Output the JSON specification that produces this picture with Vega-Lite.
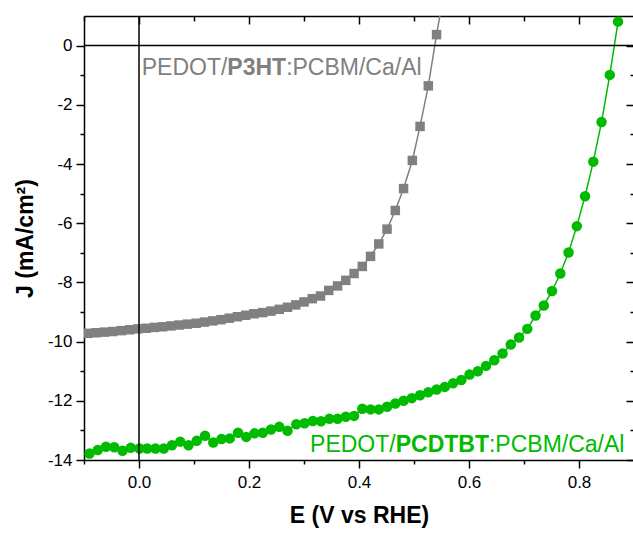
{
  "$schema": "https://vega.github.io/schema/vega-lite/v6.json",
  "width": 550,
  "height": 444,
  "autosize": {"type": "none"},
  "padding": {"left": 84, "top": 16, "right": 0, "bottom": 73},
  "background": "white",
  "config": {
    "view": {"stroke": null},
    "font": "Liberation Sans",
    "axis": {
      "grid": false,
      "domainColor": "black",
      "domainWidth": 1.5,
      "tickColor": "black",
      "tickWidth": 1.5,
      "labelColor": "black",
      "titleColor": "black",
      "labelFont": "Liberation Sans",
      "titleFont": "Liberation Sans",
      "labelFontSize": 17,
      "titleFontSize": 23,
      "titleFontWeight": "bold",
      "labelOverlap": false,
      "labelFlush": false
    }
  },
  "datasets": {
    "curves": [
      {"device": "P3HT", "E": -0.093, "J": -9.72},
      {"device": "P3HT", "E": -0.078, "J": -9.70},
      {"device": "P3HT", "E": -0.063, "J": -9.68},
      {"device": "P3HT", "E": -0.048, "J": -9.66},
      {"device": "P3HT", "E": -0.032, "J": -9.63},
      {"device": "P3HT", "E": -0.017, "J": -9.60},
      {"device": "P3HT", "E": -0.002, "J": -9.57},
      {"device": "P3HT", "E": 0.013, "J": -9.55},
      {"device": "P3HT", "E": 0.028, "J": -9.52},
      {"device": "P3HT", "E": 0.043, "J": -9.50},
      {"device": "P3HT", "E": 0.058, "J": -9.47},
      {"device": "P3HT", "E": 0.073, "J": -9.44},
      {"device": "P3HT", "E": 0.088, "J": -9.41},
      {"device": "P3HT", "E": 0.104, "J": -9.38},
      {"device": "P3HT", "E": 0.119, "J": -9.34},
      {"device": "P3HT", "E": 0.134, "J": -9.30},
      {"device": "P3HT", "E": 0.149, "J": -9.26},
      {"device": "P3HT", "E": 0.164, "J": -9.21},
      {"device": "P3HT", "E": 0.179, "J": -9.16},
      {"device": "P3HT", "E": 0.194, "J": -9.11},
      {"device": "P3HT", "E": 0.209, "J": -9.06},
      {"device": "P3HT", "E": 0.225, "J": -9.02},
      {"device": "P3HT", "E": 0.240, "J": -8.97},
      {"device": "P3HT", "E": 0.255, "J": -8.91},
      {"device": "P3HT", "E": 0.270, "J": -8.84},
      {"device": "P3HT", "E": 0.285, "J": -8.76},
      {"device": "P3HT", "E": 0.300, "J": -8.66},
      {"device": "P3HT", "E": 0.315, "J": -8.55},
      {"device": "P3HT", "E": 0.330, "J": -8.46},
      {"device": "P3HT", "E": 0.345, "J": -8.27},
      {"device": "P3HT", "E": 0.361, "J": -8.12},
      {"device": "P3HT", "E": 0.376, "J": -7.93},
      {"device": "P3HT", "E": 0.391, "J": -7.70},
      {"device": "P3HT", "E": 0.406, "J": -7.46},
      {"device": "P3HT", "E": 0.421, "J": -7.12},
      {"device": "P3HT", "E": 0.436, "J": -6.70},
      {"device": "P3HT", "E": 0.451, "J": -6.20},
      {"device": "P3HT", "E": 0.466, "J": -5.57},
      {"device": "P3HT", "E": 0.481, "J": -4.83},
      {"device": "P3HT", "E": 0.497, "J": -3.88},
      {"device": "P3HT", "E": 0.511, "J": -2.73},
      {"device": "P3HT", "E": 0.526, "J": -1.36},
      {"device": "P3HT", "E": 0.541, "J": 0.37},
      {"device": "P3HT", "E": 0.556, "J": 1.95},
      {"device": "PCDTBT", "E": -0.090, "J": -13.78},
      {"device": "PCDTBT", "E": -0.075, "J": -13.66},
      {"device": "PCDTBT", "E": -0.060, "J": -13.55},
      {"device": "PCDTBT", "E": -0.045, "J": -13.57},
      {"device": "PCDTBT", "E": -0.030, "J": -13.69},
      {"device": "PCDTBT", "E": -0.015, "J": -13.59},
      {"device": "PCDTBT", "E": 0.001, "J": -13.61},
      {"device": "PCDTBT", "E": 0.015, "J": -13.61},
      {"device": "PCDTBT", "E": 0.030, "J": -13.61},
      {"device": "PCDTBT", "E": 0.045, "J": -13.61},
      {"device": "PCDTBT", "E": 0.060, "J": -13.50},
      {"device": "PCDTBT", "E": 0.075, "J": -13.38},
      {"device": "PCDTBT", "E": 0.090, "J": -13.50},
      {"device": "PCDTBT", "E": 0.105, "J": -13.35},
      {"device": "PCDTBT", "E": 0.120, "J": -13.18},
      {"device": "PCDTBT", "E": 0.135, "J": -13.41},
      {"device": "PCDTBT", "E": 0.150, "J": -13.29},
      {"device": "PCDTBT", "E": 0.165, "J": -13.27},
      {"device": "PCDTBT", "E": 0.180, "J": -13.08},
      {"device": "PCDTBT", "E": 0.195, "J": -13.22},
      {"device": "PCDTBT", "E": 0.210, "J": -13.10},
      {"device": "PCDTBT", "E": 0.225, "J": -13.08},
      {"device": "PCDTBT", "E": 0.240, "J": -12.97},
      {"device": "PCDTBT", "E": 0.255, "J": -12.88},
      {"device": "PCDTBT", "E": 0.270, "J": -13.01},
      {"device": "PCDTBT", "E": 0.286, "J": -12.79},
      {"device": "PCDTBT", "E": 0.301, "J": -12.76},
      {"device": "PCDTBT", "E": 0.316, "J": -12.68},
      {"device": "PCDTBT", "E": 0.331, "J": -12.69},
      {"device": "PCDTBT", "E": 0.346, "J": -12.61},
      {"device": "PCDTBT", "E": 0.361, "J": -12.61},
      {"device": "PCDTBT", "E": 0.376, "J": -12.54},
      {"device": "PCDTBT", "E": 0.391, "J": -12.51},
      {"device": "PCDTBT", "E": 0.406, "J": -12.27},
      {"device": "PCDTBT", "E": 0.421, "J": -12.29},
      {"device": "PCDTBT", "E": 0.436, "J": -12.29},
      {"device": "PCDTBT", "E": 0.451, "J": -12.20},
      {"device": "PCDTBT", "E": 0.466, "J": -12.09},
      {"device": "PCDTBT", "E": 0.481, "J": -12.00},
      {"device": "PCDTBT", "E": 0.496, "J": -11.91},
      {"device": "PCDTBT", "E": 0.511, "J": -11.81},
      {"device": "PCDTBT", "E": 0.526, "J": -11.71},
      {"device": "PCDTBT", "E": 0.541, "J": -11.62},
      {"device": "PCDTBT", "E": 0.556, "J": -11.53},
      {"device": "PCDTBT", "E": 0.571, "J": -11.41},
      {"device": "PCDTBT", "E": 0.586, "J": -11.30},
      {"device": "PCDTBT", "E": 0.601, "J": -11.11},
      {"device": "PCDTBT", "E": 0.616, "J": -11.00},
      {"device": "PCDTBT", "E": 0.631, "J": -10.82},
      {"device": "PCDTBT", "E": 0.646, "J": -10.63},
      {"device": "PCDTBT", "E": 0.661, "J": -10.40},
      {"device": "PCDTBT", "E": 0.676, "J": -10.10},
      {"device": "PCDTBT", "E": 0.691, "J": -9.86},
      {"device": "PCDTBT", "E": 0.706, "J": -9.57},
      {"device": "PCDTBT", "E": 0.721, "J": -9.12},
      {"device": "PCDTBT", "E": 0.736, "J": -8.78},
      {"device": "PCDTBT", "E": 0.751, "J": -8.29},
      {"device": "PCDTBT", "E": 0.766, "J": -7.70},
      {"device": "PCDTBT", "E": 0.781, "J": -6.99},
      {"device": "PCDTBT", "E": 0.796, "J": -6.10},
      {"device": "PCDTBT", "E": 0.811, "J": -5.09},
      {"device": "PCDTBT", "E": 0.826, "J": -3.92},
      {"device": "PCDTBT", "E": 0.841, "J": -2.58},
      {"device": "PCDTBT", "E": 0.856, "J": -0.99},
      {"device": "PCDTBT", "E": 0.871, "J": 0.81}
    ],
    "zero": [{"v": 0}],
    "labels": [
      {"device": "P3HT", "part": "stack", "E": 0.005, "J": -1.01, "text": "PEDOT/"},
      {"device": "P3HT", "part": "material", "E": 0.1606, "J": -1.01, "text": "P3HT"},
      {"device": "P3HT", "part": "stack", "E": 0.2675, "J": -1.01, "text": ":PCBM/Ca/Al"},
      {"device": "PCDTBT", "part": "stack", "E": 0.311, "J": -13.73, "text": "PEDOT/"},
      {"device": "PCDTBT", "part": "material", "E": 0.4667, "J": -13.73, "text": "PCDTBT"},
      {"device": "PCDTBT", "part": "stack", "E": 0.6363, "J": -13.73, "text": ":PCBM/Ca/Al"}
    ]
  },
  "resolve": {"axis": {"x": "independent", "y": "independent"}},
  "layer": [
    {
      "data": {"name": "curves"},
      "mark": {"type": "line", "strokeWidth": 1.5, "clip": true},
      "encoding": {
        "x": {
          "field": "E", "type": "quantitative",
          "scale": {"domain": [-0.1, 0.9], "nice": false, "zero": false},
          "axis": {
            "orient": "bottom",
            "values": [-0.1, 0, 0.1, 0.2, 0.3, 0.4, 0.5, 0.6, 0.7, 0.8, 0.9],
            "labelExpr": "round(datum.value*10) % 2 === 0 ? format(datum.value, '.1f') : ''",
            "tickSize": {"condition": {"test": "round(datum.value*10) % 2 !== 0", "value": 4}, "value": 8},
            "labelPadding": 6,
            "title": "E (V vs RHE)",
            "titlePadding": 14
          }
        },
        "y": {
          "field": "J", "type": "quantitative",
          "scale": {"domain": [-14, 1], "nice": false, "zero": false},
          "axis": {
            "orient": "left",
            "values": [-14, -13, -12, -11, -10, -9, -8, -7, -6, -5, -4, -3, -2, -1, 0],
            "labelExpr": "datum.value % 2 === 0 ? '' + datum.value : ''",
            "tickSize": {"condition": {"test": "datum.value % 2 !== 0", "value": 4}, "value": 8},
            "labelPadding": 4,
            "title": "J (mA/cm²)",
            "titlePadding": 10
          }
        },
        "detail": {"field": "device"},
        "color": {"field": "device", "type": "nominal", "scale": {"domain": ["P3HT", "PCDTBT"], "range": ["#808080", "#00BB00"]}, "legend": null}
      }
    },
    {
      "data": {"name": "curves"},
      "transform": [{"filter": "datum.device === 'P3HT'"}],
      "mark": {"type": "point", "shape": "square", "filled": true, "size": 90, "opacity": 1, "clip": true},
      "encoding": {
        "x": {"field": "E", "type": "quantitative", "axis": null},
        "y": {"field": "J", "type": "quantitative", "axis": null},
        "color": {"field": "device", "type": "nominal", "legend": null}
      }
    },
    {
      "data": {"name": "curves"},
      "transform": [{"filter": "datum.device === 'PCDTBT'"}],
      "mark": {"type": "point", "shape": "circle", "filled": true, "size": 110, "opacity": 1, "clip": true},
      "encoding": {
        "x": {"field": "E", "type": "quantitative", "axis": null},
        "y": {"field": "J", "type": "quantitative", "axis": null},
        "color": {"field": "device", "type": "nominal", "legend": null}
      }
    },
    {
      "data": {"name": "zero"},
      "mark": {"type": "rule", "color": "black", "strokeWidth": 1.5},
      "encoding": {
        "y": {
          "field": "v", "type": "quantitative",
          "axis": {
            "orient": "right",
            "values": [-14, -13, -12, -11, -10, -9, -8, -7, -6, -5, -4, -3, -2, -1, 0],
            "labels": false,
            "tickSize": {"condition": {"test": "datum.value % 2 !== 0", "value": -4}, "value": -8},
            "title": null
          }
        }
      }
    },
    {
      "data": {"name": "zero"},
      "mark": {"type": "rule", "color": "black", "strokeWidth": 1.5},
      "encoding": {
        "x": {
          "field": "v", "type": "quantitative",
          "axis": {
            "orient": "top",
            "values": [-0.1, 0, 0.1, 0.2, 0.3, 0.4, 0.5, 0.6, 0.7, 0.8, 0.9],
            "labels": false,
            "tickSize": {"condition": {"test": "round(datum.value*10) % 2 !== 0", "value": -5}, "value": -8},
            "title": null
          }
        }
      }
    },
    {
      "data": {"name": "labels"},
      "transform": [{"filter": "datum.part === 'stack'"}],
      "mark": {"type": "text", "align": "left", "baseline": "alphabetic", "fontSize": 23, "font": "Liberation Sans"},
      "encoding": {
        "x": {"field": "E", "type": "quantitative", "axis": null},
        "y": {"field": "J", "type": "quantitative", "axis": null},
        "text": {"field": "text"},
        "color": {"field": "device", "type": "nominal", "legend": null}
      }
    },
    {
      "data": {"name": "labels"},
      "transform": [{"filter": "datum.part === 'material'"}],
      "mark": {"type": "text", "align": "left", "baseline": "alphabetic", "fontSize": 23, "fontWeight": "bold", "font": "Liberation Sans"},
      "encoding": {
        "x": {"field": "E", "type": "quantitative", "axis": null},
        "y": {"field": "J", "type": "quantitative", "axis": null},
        "text": {"field": "text"},
        "color": {"field": "device", "type": "nominal", "legend": null}
      }
    }
  ]
}
